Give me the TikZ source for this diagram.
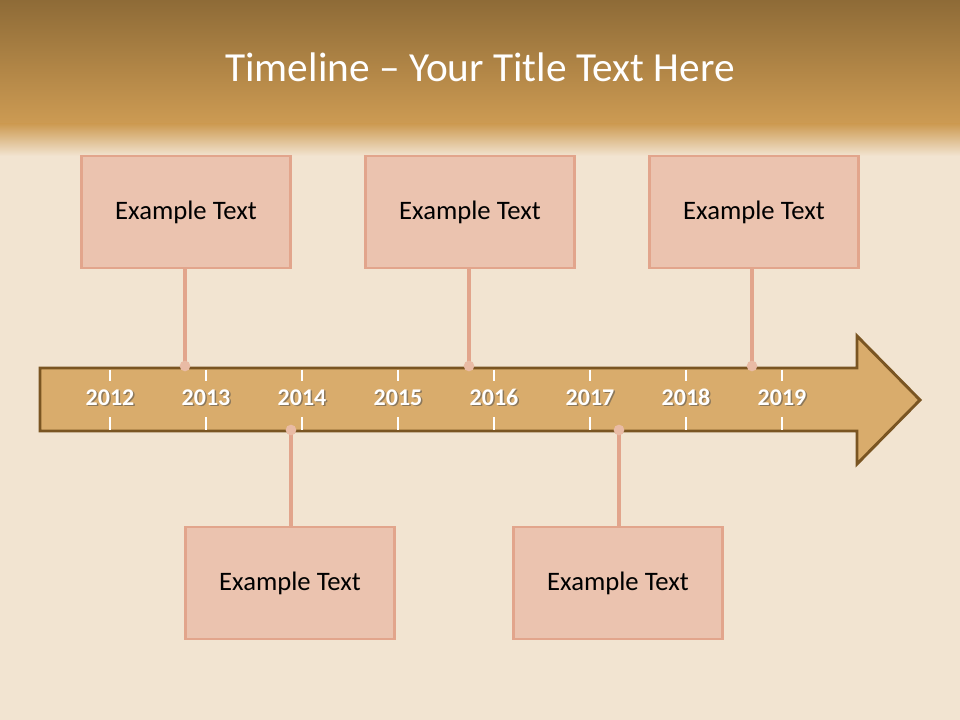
\documentclass[tikz,border=0pt]{standalone}
\usepackage{fontspec}
\setmainfont{Carlito}
\usepackage{xcolor}
\usetikzlibrary{positioning,arrows.meta}

\definecolor{bandtop}{HTML}{8E6B37}
\definecolor{bandlow}{HTML}{CD9B53}
\definecolor{wood}{HTML}{F2E4D1}
\definecolor{arrowfill}{HTML}{D9AC6C}
\definecolor{arrowedge}{HTML}{7A5522}
\definecolor{boxfill}{HTML}{EBC3AF}
\definecolor{boxedge}{HTML}{E2A58C}
\definecolor{dotfill}{HTML}{E9BBA5}

\tikzset{
  evbox/.style={draw=boxedge,line width=2.2pt,fill=boxfill,minimum width=157pt,
    minimum height=84pt,font=\fontsize{20}{24}\selectfont},
  stem/.style={draw=boxedge,line width=2.4pt},
  dot/.style={circle,fill=dotfill,inner sep=0pt,minimum size=8pt},
  yearlbl/.style={text=white,text height=12pt,text depth=0pt,font=\bfseries\fontsize{18}{20}\selectfont},
  yearshadow/.style={yearlbl,text=black!70,opacity=0.55},
  tick/.style={draw=white,line width=0.9pt}
}

\begin{document}
\begin{tikzpicture}[x=0.75pt,y=-0.75pt]
  \useasboundingbox (0,0) rectangle (960,720);
  % background
  \fill[wood] (0,0) rectangle (960,720);
  \shade[top color=bandtop,bottom color=bandlow] (0,0) rectangle (960,124);
  \shade[top color=bandlow,bottom color=wood] (0,124) rectangle (960,156);
  \node[text=white,font=\fontsize{31}{36}\selectfont] (title) at (480,67) {Timeline -- Your Title Text Here};

  % the arrow
  \draw[fill=arrowfill,draw=arrowedge,line width=2.2pt,line join=miter]
    (40,368) -- (857,368) -- (857,336) -- (920,400) -- (857,464) -- (857,431) -- (40,431) -- cycle;
  \foreach \yr [count=\i from 0] in {2012,...,2019} {
    \coordinate (t\yr) at (110+96*\i,397);
    \draw[tick] (110+96*\i,369.5) -- (110+96*\i,381);
    \draw[tick] (110+96*\i,417) -- (110+96*\i,429.5);
    \node[yearshadow] at (111.5+96*\i,398.5) {\yr};
    \node[yearlbl] (y\yr) at (t\yr) {\yr};
  }

  % events above
  \node[evbox] (e1) at (186,212) {Example Text};
  \node[evbox] (e2) at (470,212) {Example Text};
  \node[evbox] (e3) at (754,212) {Example Text};
  % events below
  \node[evbox] (e4) at (290,583) {Example Text};
  \node[evbox] (e5) at (618,583) {Example Text};

  \coordinate (p1) at (185,366);
  \coordinate (p2) at (469,366);
  \coordinate (p3) at (752,366);
  \coordinate (p4) at (291,430);
  \coordinate (p5) at (619,430);
  \foreach \e in {1,...,3}
    \draw[stem] (e\e.south -| p\e) -- (p\e);
  \foreach \e in {4,5}
    \draw[stem] (e\e.north -| p\e) -- (p\e);
  \foreach \e in {1,...,5}
    \node[dot] (d\e) at (p\e) {};
\end{tikzpicture}
\end{document}
